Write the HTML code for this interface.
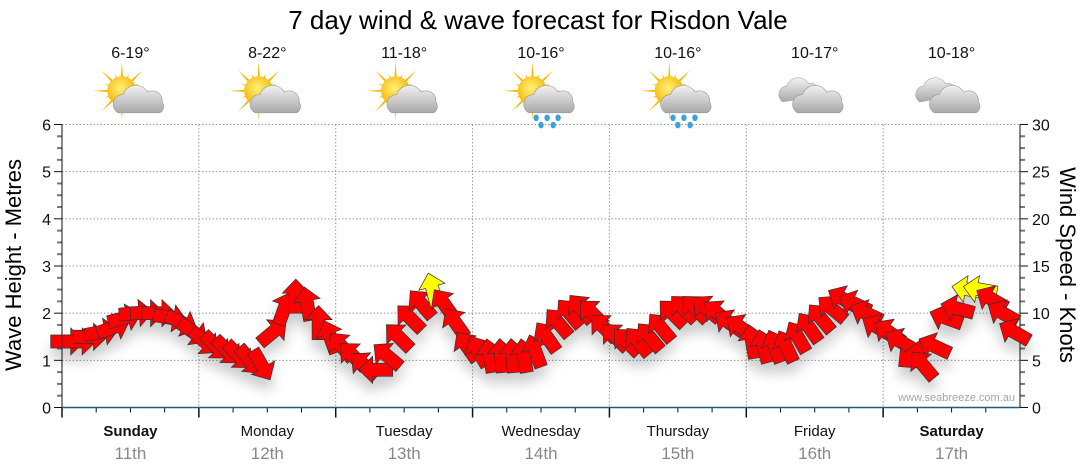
<!DOCTYPE html>
<html><head><meta charset="utf-8"><style>
html,body{margin:0;padding:0;background:#fff;width:1080px;height:475px;overflow:hidden;font-family:"Liberation Sans","DejaVu Sans",sans-serif}
</style></head><body>
<svg id="chart" width="1080" height="475" xmlns="http://www.w3.org/2000/svg" font-family="Liberation Sans, DejaVu Sans, sans-serif">
<defs>
<filter id="sh" x="-50%" y="-50%" width="200%" height="200%"><feDropShadow dx="0" dy="10" stdDeviation="6" flood-color="#000" flood-opacity="0.2"/></filter>
<radialGradient id="sun" cx="0.45" cy="0.4" r="0.6"><stop offset="0" stop-color="#fff27a"/><stop offset="1" stop-color="#f5b400"/></radialGradient>
<linearGradient id="cloud" x1="0" y1="0" x2="0" y2="1"><stop offset="0" stop-color="#f2f2f2"/><stop offset="1" stop-color="#a8a8a8"/></linearGradient>
</defs>
<text x="538" y="29" font-size="26" text-anchor="middle" fill="#000">7 day wind &amp; wave forecast for Risdon Vale</text>
<g id="grid"></g><g id="axes"></g><g id="icons"></g>
<g id="arrows" filter="url(#sh)"></g>
<text x="1015" y="401" font-size="11" text-anchor="end" fill="#9aa">www.seabreeze.com.au</text>
<text transform="translate(21,265) rotate(-90)" font-size="22" text-anchor="middle">Wave Height - Metres</text>
<text transform="translate(1060,265) rotate(90)" font-size="22" text-anchor="middle">Wind Speed - Knots</text>
</svg>
<script>
const days=["Sunday","Monday","Tuesday","Wednesday","Thursday","Friday","Saturday"];
const dates=["11th","12th","13th","14th","15th","16th","17th"];
const temps=["6-19°","8-22°","11-18°","10-16°","10-16°","10-17°","10-18°"];
const weather=["partly","partly","partly","rain","rain","cloud","cloud"];
const boldDays=[true,false,false,false,false,false,true];
const leftTicks=[0,1,2,3,4,5,6];
const rightTicks=[0,5,10,15,20,25,30];
// wind speed (knots) every 2 hours, 12 per day
const windSpeed=[7,7,7.5,8,8.5,9.5,10,10,10,9.5,9,8,
 7,6.5,6,5.5,5,4.5,8,10.5,11.8,11,9,7.5,
 6.5,5.5,4.5,4,5.5,7.5,9.5,11,12.5,11,9,6.5,
 6,5.5,5.5,5.5,5.5,6,7.5,9,10,10.5,10,8.5,
 7.5,7,7,7.5,8.5,10,10.5,10.5,10.5,10,9,8.5,
 7,6.5,6.5,6.5,7.5,8.5,9.5,10.5,11.5,11,10,8.5,
 8,7,5.5,4.5,6.5,9.5,10.5,12.5,12.5,11.5,10,8];
// direction arrow points to (screen degrees, 0=right, -90=up)
const windDir=[0,0,0,-10,-20,-15,-5,0,0,10,25,35,
 40,45,45,45,50,60,-40,-70,-90,-100,-90,-110,
 -130,-135,-140,180,-140,-135,-135,-130,-105,-125,-125,-125,
 -120,-100,-95,-95,-100,-110,-125,-130,-130,-130,-135,-135,
 -135,-135,-130,-130,-130,-135,-135,-135,-140,-140,-145,-145,
 -100,-105,-110,-115,-120,-125,-130,-140,-150,-155,-155,-150,
 -145,-150,140,-130,-155,-160,-165,-170,-170,-150,-150,-150];
const X0=62,X1=1020,Y0=407.5,Y1=124.5;
const dayW=(X1-X0)/7;
function xTime(h){return X0+h/168*(X1-X0);}
function yM(m){return Y0-m/6*(Y0-Y1);}
function yK(k){return Y0-k/30*(Y0-Y1);}
const NS="http://www.w3.org/2000/svg";
function mk(p,tag,attrs){const e=document.createElementNS(NS,tag);for(const k in attrs)e.setAttribute(k,attrs[k]);p.appendChild(e);return e;}
const grid=document.getElementById('grid'),axes=document.getElementById('axes'),icons=document.getElementById('icons'),arr=document.getElementById('arrows');
leftTicks.forEach(v=>{if(v>0){const l=mk(grid,'line',{x1:X0,x2:X1,y1:yM(v),y2:yM(v),stroke:'#999','stroke-dasharray':'1.5,2','stroke-width':1});

}
const t=mk(axes,'text',{x:X0-11,y:yM(v)+6,'font-size':16,'text-anchor':'end',fill:'#111'});t.textContent=v;

});
rightTicks.forEach(v=>{const t=mk(axes,'text',{x:X1+12,y:yK(v)+6,'font-size':16,'text-anchor':'start',fill:'#111'});t.textContent=v;

});
for(let i=0;i<=24;i++){const y=Y0-i*(Y0-Y1)/24;const major=i%4==0;
mk(axes,'line',{x1:X0-(major?8:5),x2:X0,y1:y,y2:y,stroke:major?'#111':'#777','stroke-width':major?1:2});
mk(axes,'line',{x1:X1,x2:X1+(major?8:5),y1:y,y2:y,stroke:major?'#111':'#777','stroke-width':major?1:2});}
mk(axes,'line',{x1:X0,x2:X0,y1:Y1,y2:Y0,stroke:'#111'});
mk(axes,'line',{x1:X1,x2:X1,y1:Y1,y2:Y0,stroke:'#111'});
for(let d=0;d<7;d++){
 if(d>0){const g=mk(grid,'line',{x1:X0+d*dayW,x2:X0+d*dayW,y1:Y1,y2:Y0,stroke:'#999','stroke-dasharray':'1.5,2'});
 
 }
 for(let q=0;q<4;q++){const x=X0+d*dayW+q*dayW/4;mk(axes,'line',{x1:x,x2:x,y1:Y0,y2:Y0+(q==0?10:5),stroke:'#111','stroke-width':q==0?1.5:1});}
 const cx=X0+(d+0.5)*dayW;
 const dl=mk(axes,'text',{x:cx,y:436,'font-size':15,'text-anchor':'middle','font-weight':boldDays[d]?'bold':'normal',fill:'#111'});dl.textContent=days[d];
 
 
 const dt=mk(axes,'text',{x:cx,y:459,'font-size':17,'text-anchor':'middle',fill:'#888'});dt.textContent=dates[d];
 
 
 const tt=mk(icons,'text',{x:cx,y:58,'font-size':16,'text-anchor':'middle',fill:'#111'});tt.textContent=temps[d];
 
 
 const g=mk(icons,'g',{transform:'translate('+cx+',97) scale(1.22)'});
 
 
 const w=weather[d];
 if(w!=='cloud'){
  for(let r=0;r<16;r++){const a=r*Math.PI/8;const L=r%2?15:24;const sx=-7,sy=-5;
   mk(g,'polygon',{points:[sx+Math.cos(a)*L,sy+Math.sin(a)*L,sx+Math.cos(a+0.12)*9,sy+Math.sin(a+0.12)*9,sx+Math.cos(a-0.12)*9,sy+Math.sin(a-0.12)*9].join(','),fill:'#f5b800'});}
  mk(g,'circle',{cx:-7,cy:-5,r:12,fill:'url(#sun)'});
  mk(g,'path',{d:'M-10,13 a8,8 0 0 1 4,-15 a11,11 0 0 1 20,-2 a8,8 0 0 1 12,8 a6,6 0 0 1 -2,9 z',fill:'url(#cloud)',stroke:'#999','stroke-width':0.5});
  if(w==='rain'){[[-4,17],[5,17],[14,17],[0,23],[10,23]].forEach(p=>mk(g,'ellipse',{cx:p[0],cy:p[1],rx:2.2,ry:2.7,fill:'#3aa0e0'}));}
 } else {
  mk(g,'path',{d:'M-26,4 a7,7 0 0 1 3,-13 a10,10 0 0 1 18,-2 a7,7 0 0 1 8,10 z',fill:'url(#cloud)',stroke:'#aaa','stroke-width':0.5});
  mk(g,'path',{d:'M-14,13 a8,8 0 0 1 4,-15 a11,11 0 0 1 20,-2 a8,8 0 0 1 12,8 a6,6 0 0 1 -2,9 z',fill:'url(#cloud)',stroke:'#999','stroke-width':0.5});
 }
}
mk(axes,'line',{x1:X0,x2:X1,y1:Y0,y2:Y0,stroke:'#1f5a85','stroke-width':1.5});
windSpeed.forEach((k,i)=>{
 const x=xTime(i*2+1),y=yK(k);
 const p=mk(arr,'polygon',{points:'-17,-6.5 3,-6.5 3,-13.5 17,0 3,13.5 3,6.5 -17,6.5',fill:k>=12?'#ffff00':'#ff0000',stroke:'#333','stroke-width':0.7,transform:'translate('+x+','+y+') rotate('+windDir[i]+')'});
 
 
});
</script>
</body></html>
